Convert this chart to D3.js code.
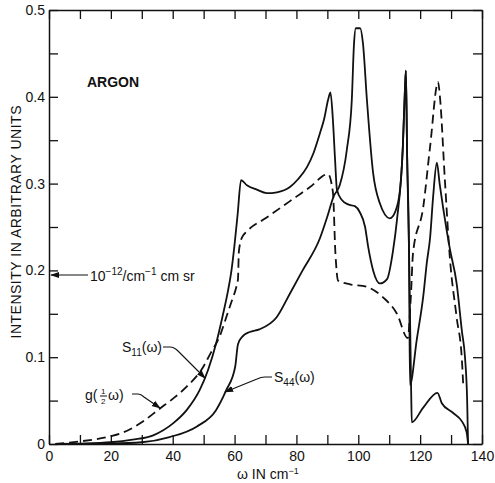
<!DOCTYPE html>
<html>
<head>
<meta charset="utf-8">
<script src="https://cdn.jsdelivr.net/npm/d3@7"></script>
<style>
  body { margin: 0; background: #fff; }
  svg text { font-family: "Liberation Sans", Arial, sans-serif; fill: #111; }
</style>
</head>
<body>
<div id="chart"></div>
<script>
// omega (cm^-1) vs intensity
var s11 = [[3,0],[10,0.0005],[20,0.002],[27,0.005],[33.7,0.01],[40.2,0.024],[44.5,0.039],[48.7,0.062],
  [51.4,0.085],[54.2,0.118],[56.3,0.15],[57.9,0.177],[59,0.2],[60,0.23],[61,0.265],[62.1,0.304],[64,0.298],
  [67.2,0.293],[70.4,0.289],[73.7,0.29],[77.9,0.296],[80.5,0.305],[83.4,0.319],[85.5,0.335],[87.6,0.358],
  [89,0.375],[90.2,0.396],[91,0.405],[91.8,0.373],[92.5,0.327],[93.1,0.293],[94.7,0.281],[96.7,0.276],
  [98.9,0.274],[100.5,0.267],[102.2,0.25],[103.2,0.227],[104.8,0.2],[107,0.185],[109.3,0.19],[111.2,0.222],
  [112.5,0.258],[114.4,0.342],[115.1,0.41],[115.4,0.43],[115.8,0.33],[116.4,0.224],[116.7,0.068],
  [118.9,0.12],[121,0.17],[122.2,0.21],[123.2,0.237],[124.2,0.285],[125.4,0.324],[126.3,0.3],[127.4,0.273],
  [129.6,0.225],[131.8,0.185],[133.5,0.13],[134.5,0.1],[135.2,0.05],[135.5,0]];

var s44 = [[5,0],[20,0.0005],[30,0.002],[39,0.008],[47.7,0.02],[54,0.039],[57.3,0.062],[60.2,0.089],
  [61.1,0.115],[62.6,0.124],[64.9,0.129],[68,0.132],[73.6,0.146],[78,0.174],[82,0.2],[87.6,0.237],
  [90,0.262],[92,0.285],[94,0.298],[96.3,0.339],[97.9,0.396],[98.6,0.46],[99.2,0.479],[100.6,0.479],
  [101.5,0.462],[102.8,0.396],[104.8,0.312],[107,0.277],[110.2,0.26],[112,0.268],[113.5,0.293],
  [114.4,0.342],[115.1,0.41],[115.4,0.43],[115.8,0.33],[116.4,0.224],[117.1,0.06],[117.3,0.025],
  [121,0.042],[125.6,0.059],[127,0.047],[130.6,0.036],[133.5,0.026],[135,0.014],[135.5,0]];

var gHalf = [[2,0],[10,0.003],[20,0.009],[23,0.012],[30,0.025],[35.9,0.041],[40,0.052],[44.5,0.066],
  [49.9,0.089],[52,0.103],[55.3,0.125],[57.5,0.148],[59.2,0.166],[60.5,0.18],[61.1,0.19],[61.4,0.222],
  [62.4,0.238],[64,0.245],[70,0.26],[80,0.285],[84.4,0.296],[90.2,0.311],[91.8,0.29],[92.6,0.22],
  [93.5,0.188],[97.3,0.184],[102.8,0.181],[108,0.169],[112.5,0.15],[116,0.122],[117,0.17],[117.7,0.22],
  [121,0.273],[123.2,0.342],[125.8,0.417],[126.4,0.4],[128,0.304],[129.6,0.215],[131.8,0.146],
  [133.5,0.097],[133.9,0.07]];

var xTicks = d3.range(0, 141, 10);
var yTicks = d3.range(0, 0.501, 0.05);

var W = 495, H = 483;
var margin = {left: 49, right: 482, top: 10, bottom: 444};

var svg = d3.select("#chart").append("svg")
  .attr("width", W).attr("height", H);

var x = d3.scaleLinear().domain([0, 140]).range([margin.left, margin.right]);
var y = d3.scaleLinear().domain([0, 0.5]).range([margin.bottom, margin.top]);

function styleAxis(g) {
  g.select(".domain").attr("stroke", "#111").attr("stroke-width", 1.5);
  g.selectAll(".tick line").attr("stroke", "#111").attr("stroke-width", 1.3);
  g.selectAll(".tick text").attr("font-size", 14).attr("fill", "#111");
}

svg.append("g").attr("transform", "translate(0," + margin.bottom + ")")
  .call(d3.axisBottom(x).tickValues(xTicks).tickSizeInner(-9).tickSizeOuter(0).tickPadding(7)
    .tickFormat(function(d){ return d % 20 === 0 ? d : ""; }))
  .call(styleAxis);
svg.append("g").attr("transform", "translate(0," + margin.top + ")")
  .call(d3.axisTop(x).tickValues(xTicks).tickSizeInner(-9).tickSizeOuter(0).tickFormat(""))
  .call(styleAxis);
svg.append("g").attr("transform", "translate(" + margin.left + ",0)")
  .call(d3.axisLeft(y).tickValues(yTicks).tickSizeInner(-9).tickSizeOuter(0).tickPadding(4)
    .tickFormat(function(d){
      var k = Math.round(d * 100);
      if (k % 10 !== 0) return "";
      return k === 0 ? "0" : d3.format(".1f")(d);
    }))
  .call(styleAxis);
svg.append("g").attr("transform", "translate(" + margin.right + ",0)")
  .call(d3.axisRight(y).tickValues(yTicks).tickSizeInner(-9).tickSizeOuter(0).tickFormat(""))
  .call(styleAxis);

var line = d3.line()
  .x(function(d){ return x(d[0]); })
  .y(function(d){ return y(d[1]); })
  .curve(d3.curveMonotoneX);

svg.append("path").datum(s11).attr("d", line)
  .attr("fill", "none").attr("stroke", "#111").attr("stroke-width", 1.8);
svg.append("path").datum(s44).attr("d", line)
  .attr("fill", "none").attr("stroke", "#111").attr("stroke-width", 1.8);
svg.append("path").datum(gHalf).attr("d", line)
  .attr("fill", "none").attr("stroke", "#111").attr("stroke-width", 1.8)
  .attr("stroke-dasharray", "9,5");

// arrow marker
svg.append("defs").append("marker")
  .attr("id", "arr").attr("viewBox", "0 0 10 10")
  .attr("refX", 9).attr("refY", 5)
  .attr("markerWidth", 9).attr("markerHeight", 9)
  .attr("markerUnits", "userSpaceOnUse")
  .attr("orient", "auto")
  .append("path").attr("d", "M0,1.5 L10,5 L0,8.5 Z").attr("fill", "#111");

function leader(d) {
  svg.append("path").attr("d", d).attr("fill", "none")
    .attr("stroke", "#111").attr("stroke-width", 1.1)
    .attr("marker-end", "url(#arr)");
}

// labels
svg.append("text").attr("x", 87).attr("y", 87).attr("font-size", 14)
  .attr("font-weight", "bold").text("ARGON");

svg.append("text")
  .attr("transform", "translate(21," + 222 + ") rotate(-90)")
  .attr("text-anchor", "middle").attr("font-size", 14)
  .attr("textLength", 233).attr("lengthAdjust", "spacing")
  .text("INTENSITY IN ARBITRARY UNITS");

var xt = svg.append("text").attr("x", 237).attr("y", 479).attr("font-size", 14);
xt.append("tspan").text("ω IN cm");
xt.append("tspan").attr("font-size", 9).attr("dy", -5).text("−1");

var unit = svg.append("text").attr("x", 90).attr("y", 281).attr("font-size", 14);
unit.append("tspan").text("10");
unit.append("tspan").attr("font-size", 10).attr("dy", -6).text("−12");
unit.append("tspan").attr("dy", 6).text("/cm");
unit.append("tspan").attr("font-size", 10).attr("dy", -6).text("−1");
unit.append("tspan").attr("dy", 6).text(" cm sr");
leader("M88,275 L51,275");

var t11 = svg.append("text").attr("x", 122).attr("y", 352).attr("font-size", 14);
t11.append("tspan").text("S");
t11.append("tspan").attr("font-size", 10).attr("dy", 4).text("11");
t11.append("tspan").attr("dy", -4).text("(ω)");
leader("M163,347 L170,347 Q174,347 178,351 L205,378");

var t44 = svg.append("text").attr("x", 274).attr("y", 382).attr("font-size", 14);
t44.append("tspan").text("S");
t44.append("tspan").attr("font-size", 10).attr("dy", 4).text("44");
t44.append("tspan").attr("dy", -4).text("(ω)");
leader("M272,377 L265,377 Q261,377 257,379 L225,392");

var tg = svg.append("g");
tg.append("text").attr("x", 85).attr("y", 400).attr("font-size", 14).text("g(");
tg.append("text").attr("x", 101).attr("y", 394).attr("font-size", 8).text("1");
tg.append("line").attr("x1", 100).attr("x2", 107).attr("y1", 396).attr("y2", 396)
  .attr("stroke", "#111").attr("stroke-width", 1);
tg.append("text").attr("x", 101).attr("y", 404).attr("font-size", 8).text("2");
tg.append("text").attr("x", 108).attr("y", 400).attr("font-size", 14).text("ω)");
leader("M132,394 L138,394 Q141,394 144,397 L160,408");
</script>
</body>
</html>
